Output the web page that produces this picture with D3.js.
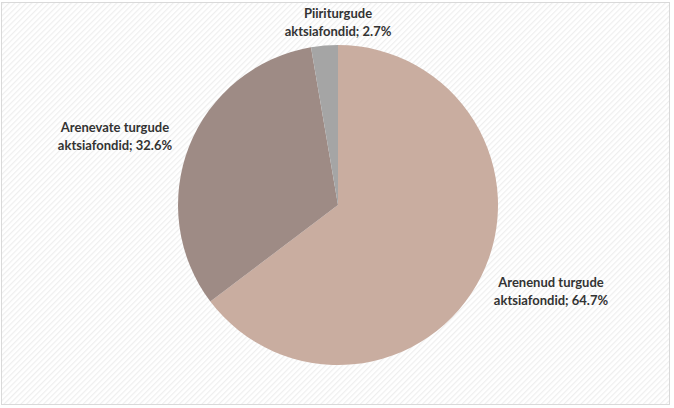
<!DOCTYPE html>
<html>
<head>
<meta charset="utf-8">
<script src="https://cdn.jsdelivr.net/npm/d3@7"></script>
<style>
  body { margin: 0; background: #fff; }
  svg { display: block; }
</style>
</head>
<body>
<svg id="chart" width="674" height="408"></svg>
<script>
// chart data
var categories = ["Arenenud turgude aktsiafondid", "Arenevate turgude aktsiafondid", "Piiriturgude aktsiafondid"];
var shares = [64.7, 32.6, 2.7];
var colors = ["#c9ada0", "#9e8b85", "#a5a5a5"];

var svg = d3.select("#chart"),
  width = +svg.attr("width"),
  height = +svg.attr("height"),
  radius = 160,
  cx = 338, cy = 205;

// striped chart-area background
var defs = svg.append("defs");
var pat = defs.append("pattern")
  .attr("id", "stripes")
  .attr("patternUnits", "userSpaceOnUse")
  .attr("width", 4).attr("height", 4)
  .attr("patternTransform", "rotate(45)");
pat.append("rect").attr("width", 4).attr("height", 4).attr("fill", "#fff");
pat.append("rect").attr("width", 1.2).attr("height", 4).attr("fill", "#efefef");

svg.append("rect")
  .attr("x", 1.5).attr("y", 2.5)
  .attr("width", 668).attr("height", 402)
  .attr("fill", "url(#stripes)")
  .attr("stroke", "#d9d9d9")
  .attr("stroke-width", 1);

var data = categories.map(function(c, i) { return {name: c, value: shares[i], color: colors[i]}; });

var pie = d3.pie().sort(null).value(function(d) { return d.value; });
var arc = d3.arc().innerRadius(0).outerRadius(radius);

var g = svg.append("g").attr("transform", "translate(" + cx + "," + cy + ")");

g.selectAll("path")
  .data(pie(data))
  .enter().append("path")
    .attr("d", arc)
    .attr("fill", function(d) { return d.data.color; })
    .attr("stroke", "none");

// label positions (outside the pie, as in the original)
var labelPos = [[551, 287], [115, 132], [338, 18]];

var labels = svg.append("g")
  .attr("font-family", "Lato, 'Open Sans', sans-serif")
  .attr("font-weight", "bold")
  .attr("font-size", 13)
  .attr("fill", "#333")
  .attr("text-anchor", "middle");

data.forEach(function(d, i) {
  var words = d.name.split(" ");
  var line1 = words.slice(0, -1).join(" ");
  var line2 = words[words.length - 1] + "; " + d.value.toFixed(1) + "%";
  var t = labels.append("text").attr("x", labelPos[i][0]).attr("y", labelPos[i][1]);
  t.append("tspan").attr("x", labelPos[i][0]).text(line1);
  t.append("tspan").attr("x", labelPos[i][0]).attr("dy", 18).text(line2);
});
</script>
</body>
</html>
